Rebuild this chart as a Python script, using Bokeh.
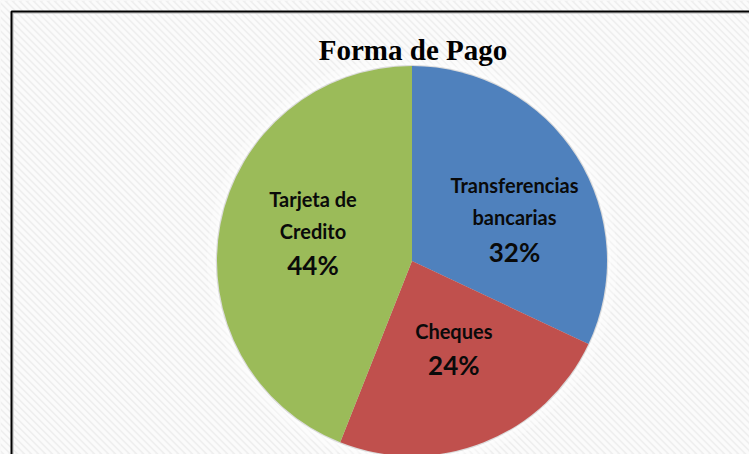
import numpy as np
from bokeh.plotting import figure
from bokeh.models import ColumnDataSource, Range1d
from bokeh.core.properties import value
from bokeh.embed import file_html
from bokeh.resources import INLINE

# ---- data ----
title_text = "Forma de Pago"
categories = ["Transferencias\nbancarias", "Cheques", "Tarjeta de\nCredito"]
percents = [32, 24, 44]
colors = ["#4F81BD", "#C0504D", "#9BBB59"]

# ---- layout (pixel-like coordinates, y up) ----
W, H = 749, 454
cx, cy, R = 411.5, 193.5, 195
label_pos = [(514.0, 269.3), (453.3, 123.7), (312.5, 256.0)]
line_gap = 32.0
pct_gap = 34.5

p = figure(width=W, height=H, output_backend="svg", toolbar_location=None,
           x_range=Range1d(0, W), y_range=Range1d(0, H),
           x_axis_type=None, y_axis_type=None, min_border=0,
           background_fill_color="#efefef", border_fill_color="white")
p.grid.visible = False
p.outline_line_color = None

# diagonal stripe background
x0 = np.arange(-H, W + 10, 7.0)
p.segment(x0=x0, y0=np.full_like(x0, H), x1=x0 + H, y1=np.zeros_like(x0),
          line_color="#fbfbfb", line_width=3.2)

# border (left and top)
p.line([12.5, 12.5, W], [0, 441.5, 441.5], line_color="#c8c8c8", line_width=1.5)
p.line([11, 11, W], [0, 443, 443], line_color="black", line_width=2)

# soft glow around pie
p.circle(x=[cx], y=[cy], radius=R + 10, fill_color="white", fill_alpha=0.35, line_color=None)
p.circle(x=[cx], y=[cy], radius=R + 4, fill_color="white", fill_alpha=0.4, line_color=None)
p.circle(x=[cx], y=[cy], radius=R + 1.2, fill_color="#bbbbbb", fill_alpha=0.5, line_color=None)

# pie
fr = np.array(percents, dtype=float) / sum(percents)
cum = np.concatenate([[0], np.cumsum(fr)])
start = np.pi / 2 - cum[:-1] * 2 * np.pi
end = np.pi / 2 - cum[1:] * 2 * np.pi
src = ColumnDataSource(dict(start=start, end=end, color=colors))
p.wedge(x=cx, y=cy, radius=R, start_angle="start", end_angle="end",
        direction="clock", fill_color="color", line_color=None, source=src)

# labels
for cat, pct, (lx, ly) in zip(categories, percents, label_pos):
    lines = cat.split("\n")
    ys = [ly - i * line_gap for i in range(len(lines))]
    p.text(x=[lx] * len(lines), y=ys, text=lines, text_align="center",
           text_baseline="alphabetic", text_font=value("Lato"),
           text_font_style="bold", text_font_size="20px", text_color="#0a0a0a")
    p.text(x=[lx], y=[ys[-1] - pct_gap], text=[f"{pct}%"], text_align="center",
           text_baseline="alphabetic", text_font=value("Lato"),
           text_font_style="bold", text_font_size="26px", text_color="#0a0a0a")

# title
p.text(x=[412.5], y=[405], text=[title_text], text_align="center",
       text_baseline="alphabetic", text_font=value("Liberation Serif"),
       text_font_style="bold", text_font_size="29px", text_color="black")

open("out.html", "w").write(file_html(p, INLINE))
